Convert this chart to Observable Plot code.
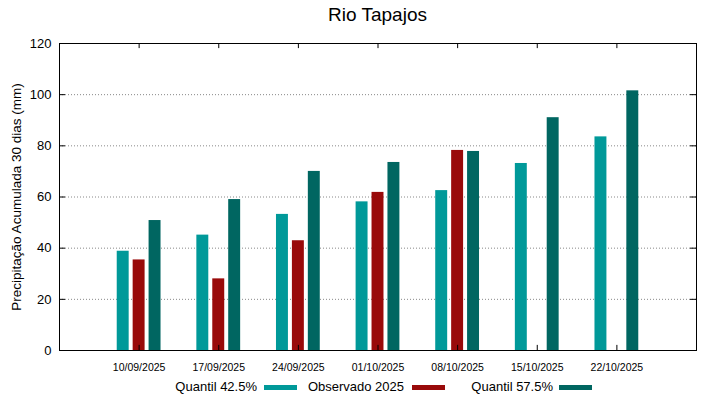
<!DOCTYPE html>
<html>
<head>
<meta charset="utf-8">
<script src="https://cdn.jsdelivr.net/npm/d3@7"></script>
<script src="https://cdn.jsdelivr.net/npm/@observablehq/plot@0.6"></script>
<style>
  body { margin: 0; background: #fff; font-family: "Liberation Sans", Arial, sans-serif; }
  #wrap { position: relative; width: 719px; height: 399px; overflow: hidden; }
  #title { position: absolute; left: 59px; width: 637px; top: 4px; text-align: center; font-size: 19px; color: #000; }
  .leg { position: absolute; top: 379px; font-size: 13px; color: #000; line-height: 16px; white-space: nowrap; }
  .sw { position: absolute; top: 385px; height: 5px; width: 33px; }
</style>
</head>
<body>
<div id="wrap">
  <div id="title">Rio Tapajos</div>
</div>
<script>
const dates = ["10/09/2025", "17/09/2025", "24/09/2025", "01/10/2025", "08/10/2025", "15/10/2025", "22/10/2025"];
const quantil425 = [38.8, 45.1, 53.2, 58.1, 62.5, 73.1, 83.5];
const observado2025 = [35.4, 28.0, 42.9, 61.8, 78.2, null, null];
const quantil575 = [50.8, 59.0, 70.0, 73.5, 77.8, 91.0, 101.5];
const seriesNames = ["Quantil 42.5%", "Observado 2025", "Quantil 57.5%"];
const seriesColors = ["#009999", "#990a0a", "#006661"];
const yTicks = [0, 20, 40, 60, 80, 100, 120];

const seriesValues = [quantil425, observado2025, quantil575];
const offsets = [-0.2, 0, 0.2];
const halfW = 0.075;
const rows = [];
seriesValues.forEach((vals, s) => {
  vals.forEach((v, i) => {
    if (v != null) rows.push({i, s, v, x1: i + offsets[s] - halfW, x2: i + offsets[s] + halfW});
  });
});
const idx = dates.map((d, i) => i);

const chart = Plot.plot({
  width: 719,
  height: 399,
  marginTop: 43,
  marginBottom: 49,
  marginLeft: 59,
  marginRight: 23,
  style: {fontFamily: "Liberation Sans, Arial, sans-serif", background: "#fff"},
  x: {domain: [-1, 7]},
  y: {domain: [0, 120]},
  marks: [
    Plot.gridY([20, 40, 60, 80, 100], {stroke: "#888", strokeOpacity: 1, strokeDasharray: "1,2", strokeWidth: 1}),
    Plot.rect(rows, {x1: "x1", x2: "x2", y1: 0, y2: "v", fill: d => seriesColors[d.s]}),
    Plot.ruleX(idx, {x: d => d, y1: 0, y2: 2, stroke: "#000"}),
    Plot.ruleX(idx, {x: d => d, y1: 118, y2: 120, stroke: "#000"}),
    Plot.frame({stroke: "#000", strokeWidth: 1}),
    Plot.axisY(yTicks, {tickSize: 0, tickPadding: 8, fontSize: 13, label: null}),
    Plot.axisY({ticks: [], label: "Precipitação Acumulada 30 dias (mm)", labelAnchor: "center", labelArrow: "none", labelOffset: 48, fontSize: 13.5}),
    Plot.axisX(idx, {tickSize: 0, tickPadding: 13, fontSize: 10.5, tickFormat: i => dates[i], label: null}),
    Plot.tickY(yTicks.slice(1, -1), {y: d => d, stroke: "#000", insetRight: 631}),
    Plot.tickY(yTicks.slice(1, -1), {y: d => d, stroke: "#000", insetLeft: 631})
  ]
});
const wrap = document.getElementById("wrap");
wrap.insertBefore(chart, wrap.firstChild);

const legX = [
  {textRight: 257, sw: 264},
  {textRight: 404, sw: 412},
  {textRight: 553, sw: 559}
];
seriesNames.forEach((n, s) => {
  const t = document.createElement("div");
  t.className = "leg";
  t.textContent = n;
  t.style.right = (719 - legX[s].textRight) + "px";
  wrap.appendChild(t);
  const sw = document.createElement("div");
  sw.className = "sw";
  sw.style.left = legX[s].sw + "px";
  sw.style.background = seriesColors[s];
  wrap.appendChild(sw);
});
</script>
</body>
</html>
